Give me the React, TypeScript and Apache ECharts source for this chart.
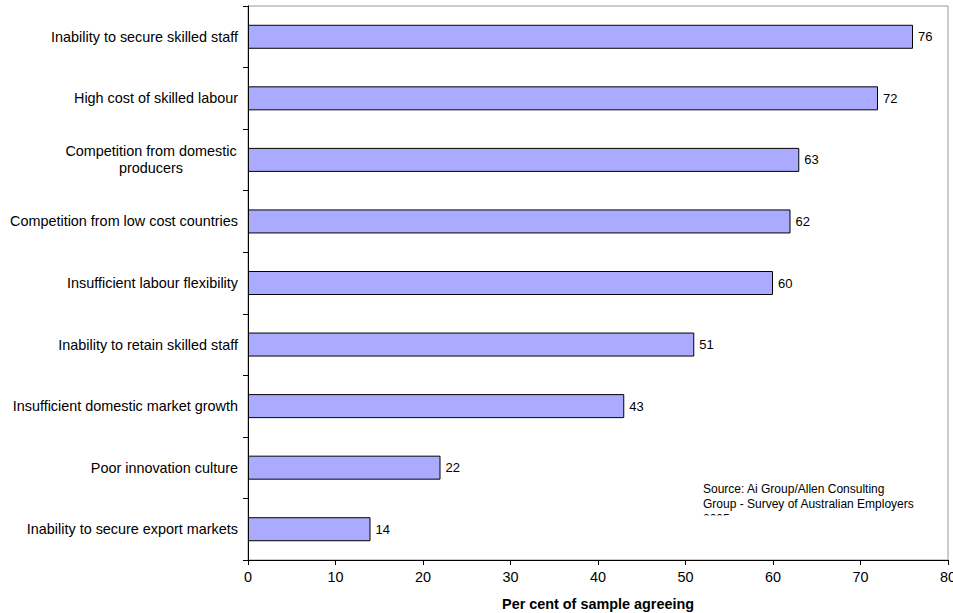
import React, { useEffect, useRef } from "react";
import * as echarts from "echarts";

const categories = [
  "Inability to secure skilled staff",
  "High cost of skilled labour",
  "Competition from domestic producers",
  "Competition from low cost countries",
  "Insufficient labour flexibility",
  "Inability to retain skilled staff",
  "Insufficient domestic market growth",
  "Poor innovation culture",
  "Inability to secure export markets",
];
const values = [76, 72, 63, 62, 60, 51, 43, 22, 14];
const xTicks = { min: 0, max: 80, interval: 10 };
const axisTitle = "Per cent of sample agreeing";
const sourceLines = [
  "Source: Ai Group/Allen Consulting",
  "Group - Survey of Australian Employers",
  "2005",
];

const FONT = "'Liberation Sans', Arial, sans-serif";

export default function App() {
  const ref = useRef<HTMLDivElement>(null);
  useEffect(() => {
    if (!ref.current) return;
    const chart = echarts.init(ref.current, null, { renderer: "svg" });
    chart.setOption({
      animation: false,
      backgroundColor: "#ffffff",
      textStyle: { fontFamily: FONT },
      grid: {
        left: 248,
        top: 6,
        right: 5,
        bottom: 53,
        containLabel: false,
        outerBoundsMode: "none",
        show: true,
        borderColor: "#999999",
        borderWidth: 1,
        backgroundColor: "transparent",
      },
      xAxis: {
        type: "value",
        min: xTicks.min,
        max: xTicks.max,
        interval: xTicks.interval,
        splitLine: { show: false },
        axisLine: { show: true, lineStyle: { color: "#000", width: 1 } },
        axisTick: { show: true, length: 5, lineStyle: { color: "#000" } },
        axisLabel: { color: "#000", fontSize: 14.4, margin: 10, fontFamily: FONT },
        name: axisTitle,
        nameLocation: "middle",
        nameGap: 37,
        nameTextStyle: { color: "#000", fontSize: 14.4, fontWeight: "bold", fontFamily: FONT },
      },
      yAxis: {
        type: "category",
        data: categories,
        inverse: true,
        axisLine: { show: true, lineStyle: { color: "#000", width: 1 } },
        axisTick: { show: true, length: 5, lineStyle: { color: "#000" } },
        axisLabel: {
          color: "#000",
          fontSize: 14.4,
          margin: 10,
          fontFamily: FONT,
          formatter: (v: string) =>
            v === "Competition from domestic producers"
              ? "{c|Competition from domestic}\n{c|producers}"
              : v,
          rich: {
            c: {
              width: 174,
              align: "center",
              fontSize: 14.4,
              color: "#000",
              lineHeight: 17,
              fontFamily: FONT,
            },
          },
        },
      },
      series: [
        {
          type: "bar",
          data: values,
          barWidth: 24,
          itemStyle: { color: "#AAAAFF", borderColor: "#000", borderWidth: 1 },
          label: {
            show: true,
            position: "right",
            distance: 5,
            color: "#000",
            fontSize: 13,
            fontFamily: FONT,
          },
        },
      ],
      graphic: [
        {
          type: "text",
          left: 703,
          top: 481,
          z: 10,
          style: {
            text: sourceLines.join("\n"),
            lineHeight: 15,
            fill: "#000",
            font: `12px ${FONT}`,
          },
        },
        {
          type: "rect",
          z: 11,
          shape: { x: 700, y: 515.5, width: 240, height: 20 },
          style: { fill: "#fff" },
        },
      ],
    });
    return () => chart.dispose();
  }, []);
  return (
    <div
      ref={ref}
      style={{ position: "absolute", left: 0, top: 0, width: 953, height: 613 }}
    />
  );
}
